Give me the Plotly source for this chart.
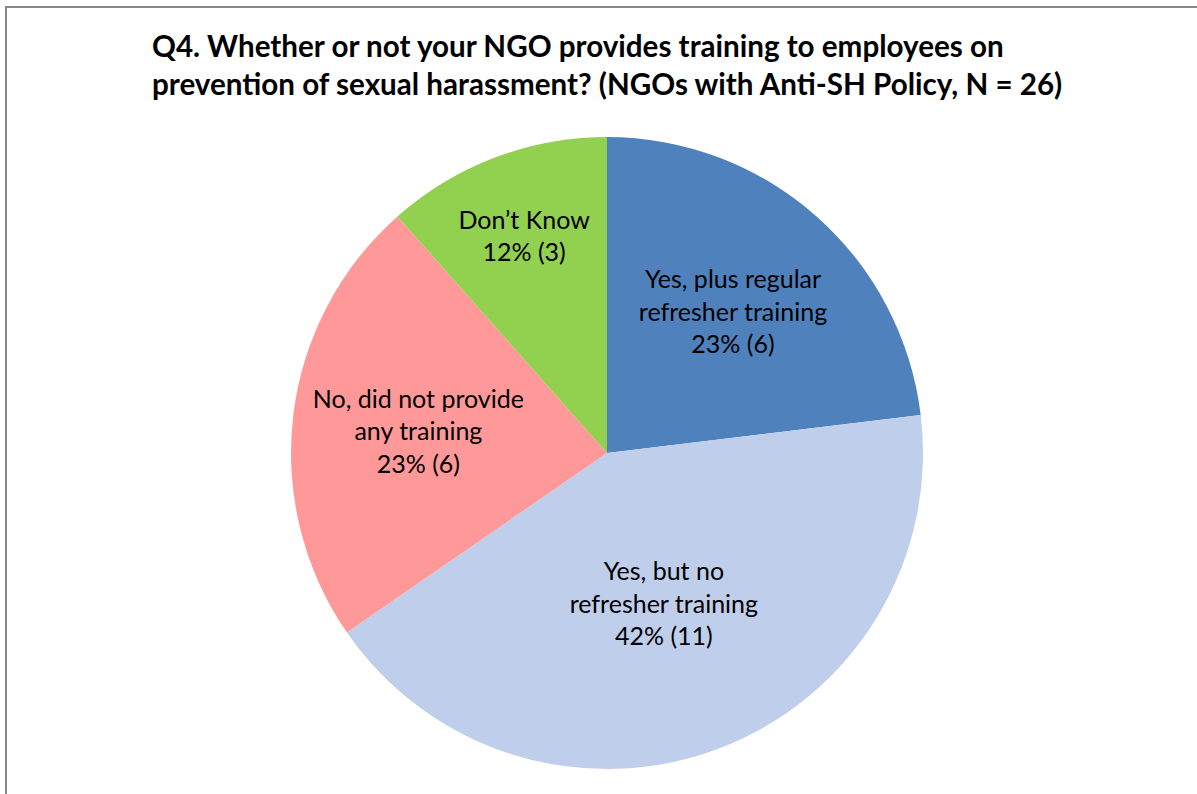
import plotly.graph_objects as go

# slice data, clockwise from 12 o'clock
labels = ["Yes, plus regular<br>refresher training",
          "Yes, but no<br>refresher training",
          "No, did not provide<br>any training",
          "Don’t Know"]
counts = [6, 11, 6, 3]
percents = [23, 42, 23, 12]
colors = ["#4F81BD", "#BFCEEB", "#FF9999", "#92D050"]

texts = [f"{l}<br>{p}% ({c})" for l, p, c in zip(labels, percents, counts)]

W, H = 1197, 794
L, R, T, B = 291, 274, 137, 25
pw, ph = W - L - R, H - T - B

def px(x):
    return (x - L) / pw

def py(y):
    return (H - B - y) / ph

fig = go.Figure()
fig.add_trace(go.Pie(
    values=counts,
    text=texts,
    textinfo="text",
    textposition="inside",
    insidetextorientation="horizontal",
    sort=False,
    direction="clockwise",
    rotation=0,
    marker=dict(colors=colors, line=dict(width=0)),
    textfont=dict(family="Lato", size=25, color="black"),
    showlegend=False,
    hoverinfo="skip",
))

fig.add_annotation(
    text="Q4. Whether or not your NGO provides training to employees on<br>"
         "prevention of sexual harassment? (NGOs with Anti-SH Policy, N = 26)",
    xref="paper", yref="paper", x=px(150), y=py(26),
    xanchor="left", yanchor="top", align="left", showarrow=False,
    font=dict(family="Lato", size=29.6, color="black", weight="bold"),
)

# chart frame (runs off the right and bottom of the image)
fig.add_shape(type="rect", xref="paper", yref="paper",
              x0=px(6), x1=px(1215), y0=py(812), y1=py(7),
              line=dict(color="#888888", width=2))

fig.update_layout(
    width=W, height=H,
    margin=dict(l=L, r=R, t=T, b=B),
    paper_bgcolor="white", plot_bgcolor="white",
    uniformtext=dict(minsize=25, mode="show"),
)

fig.write_html("out.html", config={"displayModeBar": False},
               post_script="document.body.style.margin='0';")
